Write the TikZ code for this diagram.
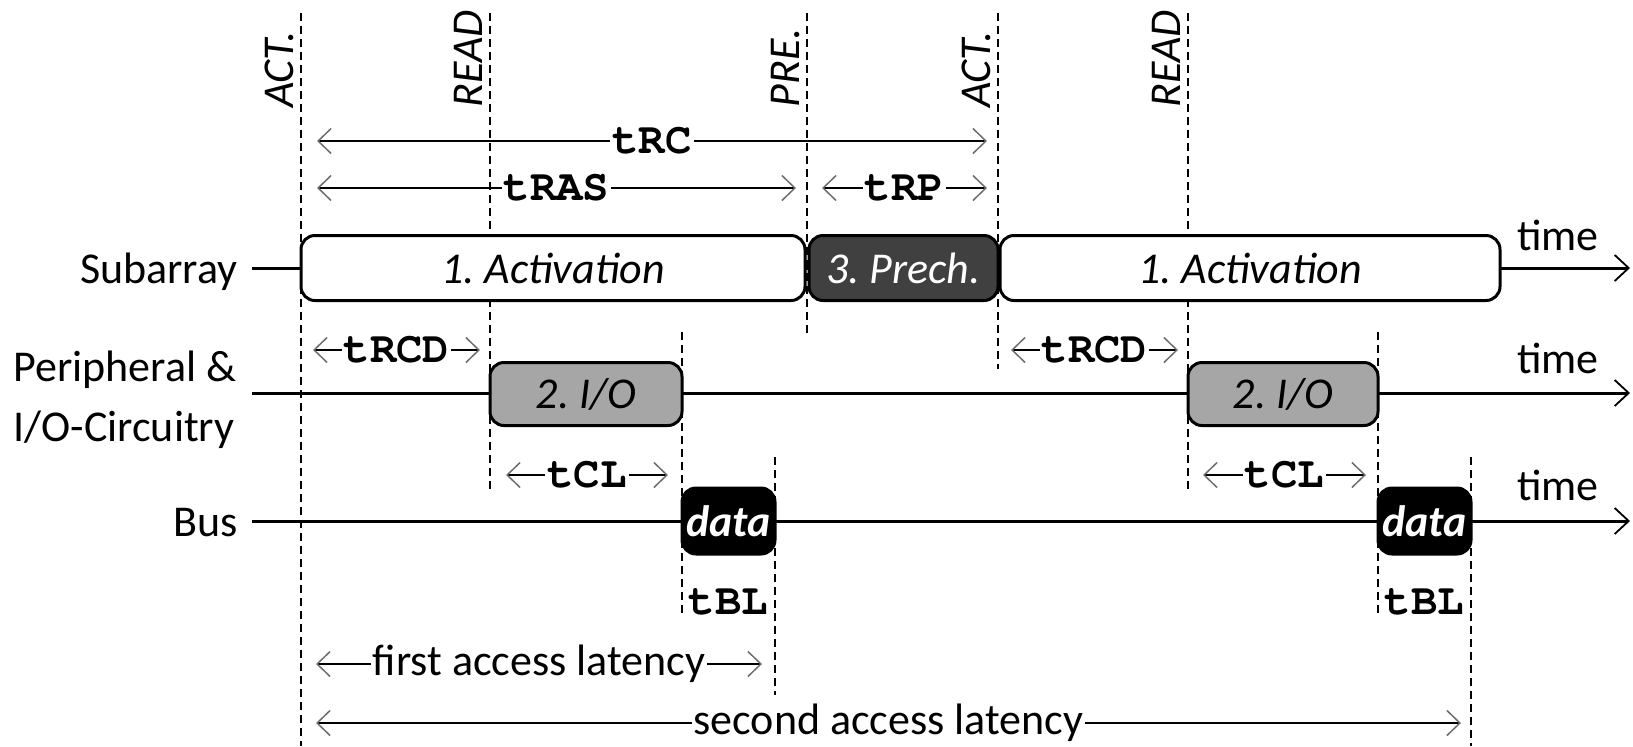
\documentclass[tikz,border=0pt]{standalone}
\usepackage{fontspec}
\setmainfont{Carlito}
\newfontfamily\courfont{TeX Gyre Cursor}
\usetikzlibrary{arrows.meta}
\definecolor{precol}{HTML}{404040}
\definecolor{iocol}{HTML}{A6A6A6}
\definecolor{tipgray}{HTML}{6E6E6E}
\frenchspacing
\begin{document}
\begin{tikzpicture}[x=0.5pt,y=-0.5pt,
  every node/.style={inner sep=0pt, font=\fontsize{22pt}{27pt}\selectfont},
  vline/.style={line width=0.8pt, dash pattern=on 4pt off 2.5pt},
  tl/.style={line width=1.5pt, -{Straight Barb[length=7pt,width=13pt,line width=0.9pt]}},
  phase/.style={draw, line width=1.5pt, rounded corners=7pt, minimum height=32.5pt,
    font=\fontsize{22pt}{27pt}\selectfont\itshape},
  actbox/.style={phase, fill=white},
  prebox/.style={phase, fill=precol, text=white},
  iobox/.style={phase, fill=iocol, minimum height=31.5pt},
  databox/.style={phase, fill=black, text=white, minimum height=33pt,
    font=\fontsize{22pt}{27pt}\selectfont\bfseries\itshape},
  dim/.style={line width=0.75pt,
    {Straight Barb[length=6.5pt,width=12.5pt,line width=0.75pt,color=tipgray]}-{Straight Barb[length=6.5pt,width=12.5pt,line width=0.75pt,color=tipgray]}},
  dimlbl/.style={fill=white, inner xsep=1pt, inner ysep=3pt,
    font=\fontsize{22pt}{27pt}\selectfont\courfont\bfseries},
  cmdlbl/.style={rotate=90, anchor=base west, font=\fontsize{22pt}{27pt}\selectfont\itshape},
  monolbl/.style={font=\fontsize{22pt}{27pt}\selectfont\courfont\bfseries},
  txtlbl/.style={fill=white, inner xsep=1pt, inner ysep=3pt},
]
\useasboundingbox (0,0) rectangle (1633,746);

% dashed vertical guide lines
\foreach \n/\x/\a/\b in {1/301/13/746, 2/490/13/491, 3/807/13/334, 4/998/13/369,
  5/1188/13/491, 6/682/332/617, 7/775/457/695, 8/1378/332/617, 9/1471/457/746} {
  \coordinate (v\n t) at (\x,\a);
  \coordinate (v\n b) at (\x,\b);
  \draw[vline] (v\n t) -- (v\n b);
}

% command labels
\node[cmdlbl] (cact1) at (293,108) {ACT.};
\node[cmdlbl] (cread1) at (482,108) {READ};
\node[cmdlbl] (cpre) at (799,108) {PRE.};
\node[cmdlbl] (cact2) at (990,108) {ACT.};
\node[cmdlbl] (cread2) at (1180,108) {READ};

% row labels
\node[anchor=base east] (lsub) at (238,283) {Subarray};
\node[anchor=west, align=left, font=\fontsize{22pt}{30pt}\selectfont] (lper) at (13,400) {Peripheral \&\\I/O-Circuitry};
\node[anchor=base east] (lbus) at (238,536) {Bus};

% time lines
\coordinate (s0) at (252,268); \coordinate (s1) at (1630,268);
\coordinate (p0) at (252,393); \coordinate (p1) at (1630,393);
\coordinate (b0) at (252,521); \coordinate (b1) at (1630,521);
\draw[tl] (s0) -- (s1);
\draw[tl] (p0) -- (p1);
\draw[tl] (b0) -- (b1);
\node[anchor=base] (time1) at (1558,250) {time};
\node[anchor=base] (time2) at (1558,373) {time};
\node[anchor=base] (time3) at (1558,500) {time};

% phase boxes
\node[actbox, minimum width=252pt] (act1) at (553,268) {1. Activation};
\node[prebox, minimum width=94.5pt] (pre) at (903.5,268) {3. Prech.};
\node[actbox, minimum width=250pt] (act2) at (1250,268) {1. Activation};
\node[iobox, minimum width=96pt] (io1) at (586,394) {2. I/O};
\node[iobox, minimum width=95pt] (io2) at (1283,394) {2. I/O};
\node[databox, minimum width=46.5pt] (data1) at (728.5,521) {data};
\node[databox, minimum width=46.5pt] (data2) at (1424.5,521) {data};

% timing dimensions
\coordinate (rcA) at (317,141); \coordinate (rcB) at (987,141);
\draw[dim] (rcA) -- node[dimlbl] (trc) {tRC} (rcB);
\coordinate (rasA) at (317,188); \coordinate (rasB) at (796,188);
\draw[dim] (rasA) -- node[dimlbl] (tras) {tRAS} (rasB);
\coordinate (rpA) at (822,188); \coordinate (rpB) at (987,188);
\draw[dim] (rpA) -- node[dimlbl] (trp) {tRP} (rpB);
\coordinate (rcd1A) at (313,350); \coordinate (rcd1B) at (480,350);
\draw[dim] (rcd1A) -- node[dimlbl] (trcd1) {tRCD} (rcd1B);
\coordinate (rcd2A) at (1011,350); \coordinate (rcd2B) at (1178,350);
\draw[dim] (rcd2A) -- node[dimlbl] (trcd2) {tRCD} (rcd2B);
\coordinate (cl1A) at (506,475); \coordinate (cl1B) at (668,475);
\draw[dim] (cl1A) -- node[dimlbl] (tcl1) {tCL} (cl1B);
\coordinate (cl2A) at (1203,475); \coordinate (cl2B) at (1366,475);
\draw[dim] (cl2A) -- node[dimlbl] (tcl2) {tCL} (cl2B);
\node[monolbl] (tbl1) at (728.5,602) {tBL};
\node[monolbl] (tbl2) at (1424.5,602) {tBL};
\coordinate (faA) at (316,664); \coordinate (faB) at (762,664);
\draw[dim] (faA) -- node[txtlbl] (first) {first access latency} (faB);
\coordinate (saA) at (316,723); \coordinate (saB) at (1461,723);
\draw[dim] (saA) -- node[txtlbl] (second) {second access latency} (saB);
\end{tikzpicture}
\end{document}
